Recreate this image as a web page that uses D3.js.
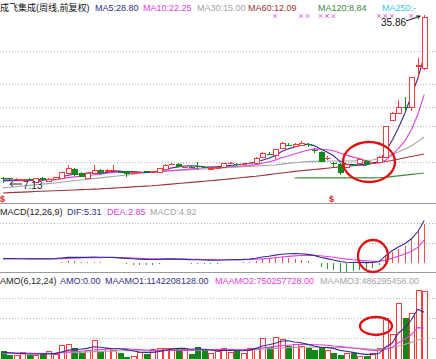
<!DOCTYPE html>
<html><head><meta charset="utf-8">
<script src="https://cdn.jsdelivr.net/npm/d3@7/dist/d3.min.js"></script>
<style>body{margin:0;background:#fff;overflow:hidden}svg{display:block}</style>
</head><body>
<script>
// ---------- DATA ----------
const opens=[8.05,7.90,7.75,7.70,7.80,7.31,8.00,7.40,7.85,8.00,
 8.85,9.53,8.85,8.00,8.85,9.36,9.20,9.30,9.05,9.19,
 8.90,9.00,9.10,9.00,9.02,9.53,10.39,10.39,9.85,9.95,
 10.10,9.90,9.60,9.75,9.88,10.50,10.45,10.35,10.50,10.56,
 11.59,12.15,11.93,13.13,13.70,13.47,13.55,13.75,12.80,12.44,
 11.35,10.60,10.39,9.88,10.25,10.56,10.90,10.50,10.73,11.60,
 17.91,19.11,20.10,20.13,27.10,26.80];
const highs=[8.15,8.00,7.90,7.85,7.95,8.05,8.10,7.90,8.20,9.05,
 10.22,9.75,8.95,8.90,10.22,9.45,9.45,10.22,9.20,9.25,
 9.10,9.10,9.20,9.25,9.75,10.30,10.60,10.50,9.95,10.10,
 10.73,10.00,9.80,9.95,10.60,10.65,10.60,10.50,10.75,11.50,
 12.35,12.40,13.00,14.10,14.00,13.95,14.30,14.00,13.10,12.60,
 11.80,10.73,10.50,10.45,10.45,11.35,11.05,10.75,11.70,16.95,
 19.20,21.30,21.84,25.30,28.51,35.86];
const lows=[7.13,7.70,7.60,7.55,7.65,7.25,7.60,7.30,7.80,7.95,
 8.80,8.40,8.10,7.95,8.80,8.80,9.10,9.02,8.80,8.17,
 8.85,8.95,8.85,8.95,9.00,9.50,10.20,9.85,9.80,9.80,
 9.36,9.80,9.55,9.70,9.85,10.45,10.25,10.30,10.40,10.50,
 11.50,11.90,11.20,13.05,13.40,13.40,13.45,13.30,12.30,10.65,
 11.00,9.88,8.51,9.80,10.00,10.50,10.15,10.35,10.65,11.50,
 17.70,18.90,19.62,19.50,25.10,26.50];
const closes=[7.95,7.85,7.80,7.80,7.75,8.00,7.66,7.83,8.10,9.02,
 9.71,8.51,8.17,8.85,9.36,8.85,9.36,9.36,9.00,8.68,
 9.02,9.02,8.95,9.19,9.71,10.22,10.45,9.88,9.90,9.88,
 10.00,9.88,9.71,9.90,10.56,10.56,10.39,10.45,10.56,11.42,
 12.27,12.05,12.95,13.98,13.60,13.81,13.90,13.60,12.70,10.73,
 11.42,10.50,8.85,10.39,10.20,11.25,10.22,10.60,11.59,16.89,
 19.11,20.13,19.96,25.26,27.31,35.50];

const ma5=[7.62,7.62,7.63,7.64,7.66,7.70,7.72,7.75,7.82,8.12,
 8.46,8.63,8.70,8.85,8.92,8.75,8.92,9.16,9.19,9.05,
 9.08,9.02,8.93,8.97,9.18,9.42,9.70,9.89,10.03,10.07,
 10.03,9.91,9.87,9.87,10.01,10.12,10.22,10.37,10.50,10.68,
 11.02,11.35,11.85,12.53,12.97,13.28,13.65,13.78,13.52,12.95,
 12.43,11.79,10.84,10.38,10.27,10.22,10.18,10.53,10.77,12.40,
 14.30,16.50,19.00,22.00,25.00,28.80];
const ma10=[7.50,7.50,7.51,7.52,7.53,7.55,7.57,7.60,7.65,7.85,
 8.05,8.18,8.26,8.38,8.54,8.64,8.80,8.95,9.04,8.90,
 8.83,8.88,8.95,8.99,9.06,9.15,9.26,9.34,9.43,9.55,
 9.65,9.74,9.82,9.89,9.97,10.00,9.99,10.05,10.12,10.27,
 10.50,10.71,11.04,11.45,11.75,12.08,12.43,12.74,12.96,12.90,
 12.81,12.66,12.26,11.90,11.56,11.30,10.93,10.63,10.50,11.00,
 11.90,13.00,14.30,16.20,18.80,22.25];
const ma30=[6.29,6.40,6.50,6.61,6.72,6.82,6.93,7.03,7.14,7.27,
 7.39,7.51,7.63,7.76,7.88,8.00,8.13,8.25,8.38,8.51,
 8.63,8.76,8.89,9.02,9.08,9.14,9.21,9.27,9.33,9.40,
 9.46,9.52,9.58,9.65,9.71,9.78,9.84,9.90,9.97,10.03,
 10.10,10.16,10.22,10.35,10.48,10.60,10.73,10.78,10.83,10.87,
 10.90,10.90,10.88,10.88,10.90,10.95,11.00,11.07,11.30,11.59,
 12.00,12.44,12.95,13.47,14.20,15.00];
const ma60=[5.43,5.48,5.52,5.57,5.62,5.67,5.71,5.76,5.81,5.85,
 5.90,5.94,5.99,6.03,6.08,6.12,6.19,6.26,6.32,6.39,
 6.46,6.52,6.59,6.65,6.75,6.85,6.94,7.04,7.14,7.23,
 7.33,7.43,7.52,7.62,7.73,7.84,7.95,8.06,8.17,8.28,
 8.42,8.56,8.70,8.84,8.98,9.12,9.22,9.33,9.44,9.55,
 9.66,9.77,9.88,9.99,10.10,10.22,10.36,10.50,10.65,10.80,
 10.97,11.20,11.45,11.65,11.87,12.09];
const ma120=[null,null,null,null,null,null,null,null,null,null,
 null,null,null,null,null,null,null,null,null,null,
 null,null,null,null,null,null,null,null,null,null,
 null,null,null,null,null,null,null,null,null,null,
 null,null,null,null,null,7.98,8.00,8.00,8.00,8.00,
 8.00,8.00,8.00,8.00,8.00,8.00,8.00,8.00,8.02,8.10,
 8.22,8.35,8.48,8.60,8.72,8.84];

const dif=[0.55,0.55,0.54,0.53,0.52,0.52,0.51,0.52,0.55,0.62,
 0.70,0.72,0.70,0.70,0.73,0.72,0.71,0.70,0.64,0.58,
 0.53,0.49,0.45,0.43,0.44,0.48,0.52,0.48,0.45,0.42,
 0.41,0.38,0.35,0.34,0.38,0.40,0.42,0.45,0.50,0.60,
 0.75,0.85,0.98,1.10,1.15,1.17,1.15,1.08,0.95,0.72,
 0.55,0.38,0.18,0.10,0.06,0.08,0.05,0.08,0.15,0.90,
 1.50,2.00,2.40,3.00,3.90,5.31];
const dea=[0.55,0.55,0.55,0.54,0.54,0.53,0.53,0.53,0.53,0.55,
 0.58,0.61,0.63,0.65,0.66,0.67,0.68,0.68,0.67,0.65,
 0.63,0.60,0.57,0.54,0.52,0.51,0.50,0.49,0.48,0.47,
 0.45,0.44,0.42,0.41,0.40,0.40,0.40,0.41,0.43,0.46,
 0.52,0.58,0.66,0.75,0.83,0.89,0.94,0.96,0.95,0.90,
 0.82,0.72,0.60,0.49,0.40,0.33,0.27,0.22,0.20,0.35,
 0.58,0.85,1.12,1.45,1.95,2.85];
const macdHist=[0,0,0,0,0,0,0,0,0.04,0.14,
 0.24,0.22,0.14,0.10,0.14,0.10,0.06,0.04,-0.06,-0.14,
 -0.20,-0.22,-0.24,-0.22,-0.16,-0.06,0.04,-0.02,-0.06,-0.10,
 -0.08,-0.12,-0.14,-0.14,-0.04,0,0.04,0.08,0.14,0.28,
 0.46,0.54,0.64,0.70,0.64,0.56,0.42,0.24,0,-0.50,
 -0.70,-0.90,-1.10,-1.10,-1.00,-0.85,-0.75,-0.60,-0.30,0.86,
 1.36,1.73,2.10,2.96,3.95,4.92];

// amount, in 1e9 (billions)
const amo=[0.18,0.07,0.07,0.15,0.07,0.07,0.12,0.18,0.10,0.32,
 0.35,0.25,0.12,0.20,0.45,0.15,0.25,0.20,0.12,0.03,
 0.05,0.15,0.10,0.22,0.24,0.25,0.24,0.25,0.22,0.10,
 0.27,0.20,0.12,0.18,0.25,0.15,0.20,0.12,0.25,0.25,
 0.50,0.27,0.52,0.48,0.30,0.35,0.30,0.25,0.20,0.27,
 0.20,0.12,0.08,0.12,0.12,0.05,0.06,0.12,0.25,1.00,
 0.60,1.38,1.00,1.12,1.70,1.68];
const maamo1=[0.14,0.13,0.12,0.11,0.10,0.10,0.10,0.11,0.11,0.15,
 0.19,0.22,0.22,0.24,0.28,0.27,0.25,0.23,0.23,0.21,
 0.18,0.15,0.14,0.14,0.16,0.19,0.22,0.24,0.24,0.22,
 0.23,0.22,0.20,0.18,0.19,0.19,0.18,0.18,0.19,0.24,
 0.30,0.33,0.37,0.42,0.43,0.40,0.38,0.34,0.30,0.27,
 0.26,0.24,0.19,0.17,0.14,0.11,0.09,0.09,0.11,0.27,
 0.36,0.62,0.75,0.95,1.22,1.142];
const maamo2=[0.13,0.13,0.12,0.12,0.12,0.11,0.11,0.11,0.11,0.13,
 0.15,0.16,0.17,0.18,0.20,0.21,0.22,0.23,0.23,0.23,
 0.22,0.21,0.20,0.19,0.19,0.19,0.19,0.19,0.19,0.19,
 0.20,0.21,0.21,0.21,0.21,0.21,0.21,0.21,0.21,0.23,
 0.25,0.27,0.29,0.31,0.32,0.33,0.34,0.34,0.33,0.33,
 0.32,0.30,0.29,0.27,0.25,0.23,0.21,0.19,0.18,0.22,
 0.26,0.38,0.47,0.58,0.76,0.750];
const maamo3=[0.12,0.12,0.12,0.12,0.12,0.12,0.12,0.12,0.12,0.13,
 0.13,0.14,0.14,0.15,0.16,0.16,0.17,0.17,0.18,0.18,
 0.18,0.18,0.18,0.18,0.19,0.19,0.19,0.20,0.20,0.20,
 0.20,0.20,0.20,0.20,0.20,0.20,0.20,0.20,0.20,0.21,
 0.22,0.23,0.24,0.25,0.26,0.26,0.27,0.27,0.27,0.27,
 0.27,0.27,0.26,0.26,0.25,0.24,0.23,0.22,0.21,0.24,
 0.25,0.30,0.34,0.39,0.45,0.486];

const signalIdx=[42,46,47,49,50,51,58,59,60,63];
const priceGrid=[29.76,24.12,20.18,16.86,10.79];
const macdGrid=[2.5,5];
const amoGrid=[0.5,1.0,1.5];
const highLabel="35.86", lowLabel="7.13";
const mainLegend=["成飞集成(周线,前复权)","MA5:28.80","MA10:22.25","MA30:15.00","MA60:12.09","MA120:8.84","MA250:-"];
const macdLegend=["MACD(12,26,9)","DIF:5.31","DEA:2.85","MACD:4.92"];
const amoLegend=["AMO(6,12,24)","AMO:0.00","MAAMO1:1142208128.00","MAAMO2:750257728.00","MAAMO3:486295456.00"];

// ---------- DRAW ----------
const W=436,H=359;
const FONT="'Liberation Sans', Arial, 'Noto Sans CJK SC', sans-serif";
const RED="#ff3a3a", GREEN="#14861a", NAVY="#30308e", MAG="#e23ee2", GRAY="#a4a4a4", MAROON="#a13333", MGREEN="#3a8c3a";
const svg=d3.select("body").append("svg").attr("width",W).attr("height",H)
  .style("font-family",FONT);

const idx=d3.range(opens.length);
const x=d3.scaleLinear().domain([0,65]).range([3,424.2]);
const y=d3.scaleLinear().domain([7.13,35.86]).range([183,15]);
const ym=d3.scaleLinear().domain([0,5]).range([263,223]);
const ya=d3.scaleLinear().domain([0,1.5]).range([358,298]);
const px=i=>Math.round(x(i))+0.5;

function hgrid(vals,sc){
  svg.append("g").selectAll("line").data(vals).join("line")
    .attr("x1",0).attr("x2",W).attr("y1",d=>Math.round(sc(d))+0.5).attr("y2",d=>Math.round(sc(d))+0.5)
    .attr("stroke","#b4b4b4").attr("stroke-dasharray","1,2").attr("stroke-width",1);
}
hgrid(priceGrid,y); hgrid(macdGrid,ym); hgrid(amoGrid,ya);

// separators
svg.append("g").selectAll("line").data([203.5,272.5]).join("line")
  .attr("x1",0).attr("x2",W).attr("y1",d=>d).attr("y2",d=>d).attr("stroke","#9a9a9a");

// legends
function legend(items,xs,cols,yb){
  svg.append("g").selectAll("text").data(items).join("text")
    .attr("x",(d,i)=>xs[i]).attr("y",yb).attr("font-size",9)
    .attr("fill",(d,i)=>cols[i]).text(d=>d);
}
legend(mainLegend,[0,95,143,197,248,318,382],["#111",NAVY,MAG,GRAY,MAROON,MGREEN,"#38c8dc"],10.5);
legend(macdLegend,[0,67,107,150],["#222",NAVY,MAG,GRAY],215);
legend(amoLegend,[0,60,105,215,320],["#222",NAVY,NAVY,MAG,GRAY],284);

// MA lines (main)
const line=(arr,sc)=>d3.line().defined(i=>arr[i]!=null).x(i=>x(i)).y(i=>sc(arr[i]));
[[ma60,MAROON],[ma120,MGREEN],[ma30,GRAY],[ma10,MAG],[ma5,NAVY]].forEach(([a,c])=>{
  svg.append("path").attr("d",line(a,y)(idx)).attr("fill","none").attr("stroke",c).attr("stroke-width",1.1);
});

// candles
const cg=svg.append("g").attr("shape-rendering","crispEdges");
idx.forEach(i=>{
  const up=closes[i]>=opens[i];
  const c=up?RED:GREEN;
  const xc=px(i);
  const yt=Math.round(y(Math.max(opens[i],closes[i]))), yb=Math.round(y(Math.min(opens[i],closes[i])));
  const yh=Math.round(y(highs[i])), yl=Math.round(y(lows[i]));
  if(yb-yt<1){
    cg.append("line").attr("x1",xc).attr("x2",xc).attr("y1",yh).attr("y2",yl).attr("stroke",c);
    cg.append("line").attr("x1",xc-3).attr("x2",xc+3).attr("y1",yt+0.5).attr("y2",yt+0.5).attr("stroke",c);
    return;
  }
  if(up){
    cg.append("line").attr("x1",xc).attr("x2",xc).attr("y1",yh).attr("y2",yt).attr("stroke",c);
    cg.append("line").attr("x1",xc).attr("x2",xc).attr("y1",yb).attr("y2",yl).attr("stroke",c);
    cg.append("rect").attr("x",xc-2.5).attr("y",yt+0.5).attr("width",5).attr("height",yb-yt)
      .attr("fill","#fff").attr("stroke",c);
  } else {
    cg.append("line").attr("x1",xc).attr("x2",xc).attr("y1",yh).attr("y2",yl).attr("stroke",c);
    cg.append("rect").attr("x",xc-3).attr("y",yt).attr("width",6).attr("height",Math.max(1,yb-yt)).attr("fill",c);
  }
});

// signal crosses
const sg=svg.append("g").attr("stroke","#e060e0").attr("stroke-width",1);
signalIdx.forEach(i=>{
  const xc=x(i), yc=16;
  sg.append("line").attr("x1",xc-1.8).attr("x2",xc+1.8).attr("y1",yc-1.8).attr("y2",yc+1.8);
  sg.append("line").attr("x1",xc-1.8).attr("x2",xc+1.8).attr("y1",yc+1.8).attr("y2",yc-1.8);
});

// high label
const hi=d3.maxIndex(highs), lo=d3.minIndex(lows);
svg.append("text").attr("x",381).attr("y",26).attr("font-size",10).attr("fill","#111").text(highLabel);
svg.append("line").attr("x1",406).attr("y1",21).attr("x2",x(hi)-4).attr("y2",y(highs[hi])+1).attr("stroke","#111");
svg.append("path").attr("d",`M${x(hi)-4},${y(highs[hi])+1} l-4,0 M${x(hi)-4},${y(highs[hi])+1} l-2.5,3`).attr("stroke","#111").attr("fill","none");
// low label
const ly=y(lows[lo])+1;
svg.append("line").attr("x1",x(lo)+7).attr("x2",x(lo)+19).attr("y1",ly).attr("y2",ly).attr("stroke","#222");
svg.append("path").attr("d",`M${x(lo)+7},${ly} l3,-2.5 M${x(lo)+7},${ly} l3,2.5`).attr("stroke","#222").attr("fill","none");
svg.append("text").attr("x",x(lo)+20).attr("y",ly+4.5).attr("font-size",10).attr("fill","#222").text(lowLabel);

// $ marks
svg.append("g").selectAll("text").data([0,50]).join("text")
  .attr("x",d=>d===0?0:x(d)+2).attr("y",202).attr("font-size",9).attr("font-weight","bold")
  .attr("fill","#e02020").text("$");

// MACD histogram
const mg=svg.append("g").attr("shape-rendering","crispEdges");
idx.forEach(i=>{
  const v=macdHist[i]; if(v===0) return;
  mg.append("line").attr("x1",px(i)).attr("x2",px(i)).attr("y1",ym(0)).attr("y2",ym(v))
    .attr("stroke",v>0?"#ff4a4a":"#2a9a2a");
});
[[dea,MAG],[dif,NAVY]].forEach(([a,c])=>{
  svg.append("path").attr("d",line(a,ym)(idx)).attr("fill","none").attr("stroke",c).attr("stroke-width",1.1);
});

// AMO bars
const ag=svg.append("g").attr("shape-rendering","crispEdges");
idx.forEach(i=>{
  const up=closes[i]>=opens[i];
  const xc=px(i), yt=Math.round(ya(amo[i]));
  if(up) ag.append("rect").attr("x",xc-2.5).attr("y",yt+0.5).attr("width",5).attr("height",H-yt+2)
    .attr("fill","#fff").attr("stroke",RED);
  else ag.append("rect").attr("x",xc-3).attr("y",yt).attr("width",6).attr("height",H-yt+2).attr("fill",GREEN);
});
[[maamo3,GRAY],[maamo2,MAG],[maamo1,NAVY]].forEach(([a,c])=>{
  svg.append("path").attr("d",line(a,ya)(idx)).attr("fill","none").attr("stroke",c).attr("stroke-width",1.1);
});

// red annotation circles
const circ=[[369,162,26,20],[373,256,15,16],[376,326,16,9]];
svg.append("g").selectAll("ellipse").data(circ).join("ellipse")
  .attr("cx",d=>d[0]).attr("cy",d=>d[1]).attr("rx",d=>d[2]).attr("ry",d=>d[3])
  .attr("fill","none").attr("stroke","#e01010").attr("stroke-width",2.3);
</script>
</body></html>
